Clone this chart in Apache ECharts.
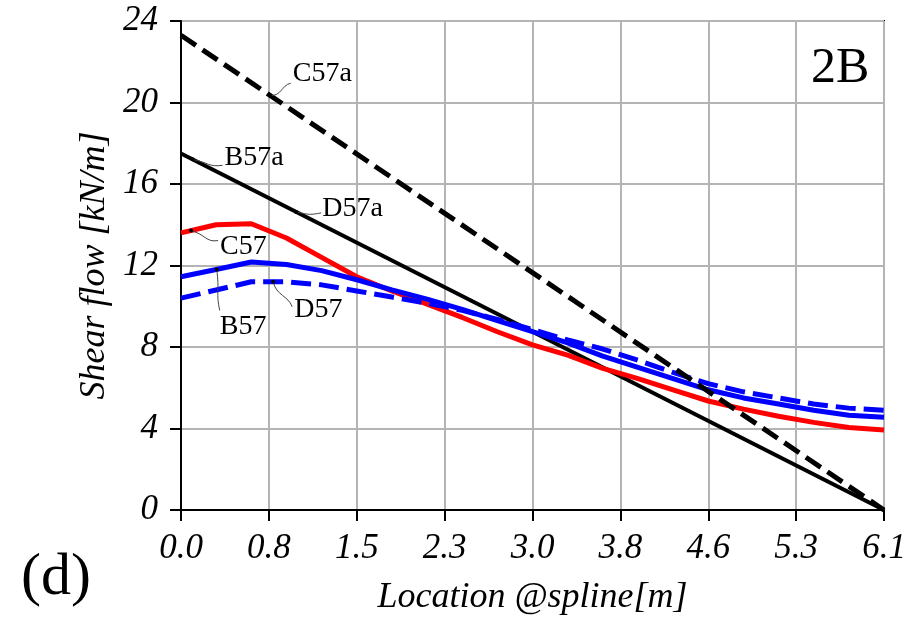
<!DOCTYPE html>
<html>
<head>
<meta charset="utf-8">
<script src="https://cdn.jsdelivr.net/npm/echarts@6/dist/echarts.min.js"></script>
<style>
  html, body { margin: 0; padding: 0; background: #ffffff; }
  #chart { width: 920px; height: 621px; }
</style>
</head>
<body>
<div id="chart"></div>
<script>
// Sampling positions along the spline [m]
const locations = [0, 0.305, 0.61, 0.915, 1.22, 1.525, 1.83, 2.135, 2.44, 2.745, 3.05,
                   3.355, 3.66, 3.965, 4.27, 4.575, 4.88, 5.185, 5.49, 5.795, 6.1];

// Shear flow [kN/m] for the distributed cases
const c57 = [13.6, 14.0, 14.05, 13.35, 12.4, 11.45, 10.75, 10.1, 9.45, 8.75, 8.1,
             7.6, 6.95, 6.45, 5.9, 5.35, 4.95, 4.6, 4.3, 4.05, 3.93];
const b57 = [11.45, 11.8, 12.17, 12.05, 11.75, 11.3, 10.8, 10.35, 9.85, 9.3, 8.75,
             8.2, 7.55, 7.0, 6.45, 5.9, 5.5, 5.2, 4.9, 4.65, 4.55];
const d57 = [10.4, 10.8, 11.2, 11.2, 11.05, 10.75, 10.45, 10.15, 9.8, 9.35, 8.85,
             8.35, 7.9, 7.35, 6.75, 6.2, 5.8, 5.5, 5.2, 5.0, 4.9];

// Linear (analytical) cases
const linearLocations = [0, 6.1];
const c57a = [23.3, 0];
const b57a = [17.5, 0];

// Tick labels
const xTickLabels = ['0.0', '0.8', '1.5', '2.3', '3.0', '3.8', '4.6', '5.3', '6.1'];
const yTickLabels = ['0', '4', '8', '12', '16', '20', '24'];

const X_MAX = 6.1;
const X_STEP = X_MAX / 8;
const Y_STEP = 4;
const FONT = "'Liberation Serif', 'DejaVu Serif', serif";

const pairs = (xs, ys) => xs.map((x, i) => [x, ys[i]]);

const seriesDefs = [
  { name: 'B57a', xs: linearLocations, ys: b57a, color: '#000000', width: 4, type: 'solid' },
  { name: 'C57',  xs: locations, ys: c57, color: '#ff0000', width: 5, type: 'solid' },
  { name: 'B57',  xs: locations, ys: b57, color: '#0000ff', width: 5, type: 'solid' },
  { name: 'D57',  xs: locations, ys: d57, color: '#0000ff', width: 5, type: [20, 8] },
  { name: 'C57a', xs: linearLocations, ys: c57a, color: '#000000', width: 5, type: [18, 8] }
];

const chart = echarts.init(document.getElementById('chart'), null, { renderer: 'canvas' });

const tickFont = { fontFamily: FONT, fontStyle: 'italic', fontSize: 35, color: '#000' };
const nameFont = { fontFamily: FONT, fontStyle: 'italic', fontSize: 36, color: '#000' };

chart.setOption({
  animation: false,
  backgroundColor: '#ffffff',
  grid: {
    left: 181, right: 36, top: 21, bottom: 111,
    show: true, borderColor: '#000000', borderWidth: 2, backgroundColor: 'transparent'
  },
  xAxis: {
    type: 'value', min: 0, max: X_MAX, interval: X_STEP,
    name: 'Location @spline[m]', nameLocation: 'middle', nameGap: 70,
    nameTextStyle: nameFont,
    axisLine: { show: true, lineStyle: { color: '#000', width: 2 } },
    axisTick: { show: true, length: 11, lineStyle: { color: '#000', width: 2 } },
    axisLabel: Object.assign({}, tickFont, {
      margin: 21, showMinLabel: true, showMaxLabel: true,
      formatter: v => xTickLabels[Math.round(v / X_STEP)] ?? ''
    }),
    splitLine: { show: true, lineStyle: { color: '#b4b4b4', width: 2 } }
  },
  yAxis: {
    type: 'value', min: 0, max: 24, interval: Y_STEP,
    name: 'Shear flow [kN/m]', nameLocation: 'middle', nameGap: 63, nameRotate: 90,
    nameTextStyle: nameFont,
    axisLine: { show: true, lineStyle: { color: '#000', width: 2 } },
    axisTick: { show: true, length: 11, lineStyle: { color: '#000', width: 2 } },
    axisLabel: Object.assign({}, tickFont, {
      margin: 23, showMinLabel: true, showMaxLabel: true,
      formatter: v => yTickLabels[Math.round(v / Y_STEP)] ?? ''
    }),
    splitLine: { show: true, lineStyle: { color: '#b4b4b4', width: 2 } }
  },
  series: seriesDefs.map((s, i) => ({
    name: s.name, type: 'line', data: pairs(s.xs, s.ys),
    showSymbol: false, symbol: 'none', z: 2 + i,
    lineStyle: { color: s.color, width: s.width, type: s.type, cap: 'butt', join: 'round' },
    emphasis: { disabled: true }
  }))
});

// Curve labels: anchored on a series at a given location, with a wavy leader to the text
const annotations = [
  { series: 'C57a', at: 0.77,  text: [23, -22], end: [21, -12], bend: 'h' },
  { series: 'B57a', at: 0.10,  text: [32, -2],  end: [30, 6],   bend: 'h' },
  { series: 'D57a', ref: 'B57a', at: 1.0, text: [26, -3], end: [25, 1], bend: 'h' },
  { series: 'C57',  at: 0.087, text: [29, 16],  end: [27, 10],  bend: 'h' },
  { series: 'B57',  at: 0.31,  text: [3, 57],   end: [3, 41],   bend: 'v' },
  { series: 'D57',  at: 0.8,   text: [21, 28],  end: [19, 25],  bend: 'v' }
];

function valueOn(name, x) {
  const s = seriesDefs.find(d => d.name === name);
  for (let i = 0; i < s.xs.length - 1; i++) {
    if (x >= s.xs[i] && x <= s.xs[i + 1]) {
      const t = (x - s.xs[i]) / (s.xs[i + 1] - s.xs[i]);
      return s.ys[i] + t * (s.ys[i + 1] - s.ys[i]);
    }
  }
  return s.ys[s.ys.length - 1];
}

const graphics = [];
annotations.forEach(a => {
  const lineName = a.ref || a.series;
  const p = chart.convertToPixel({ gridIndex: 0 }, [a.at, valueOn(lineName, a.at)]);
  const ex = p[0] + a.end[0], ey = p[1] + a.end[1];
  const dx = ex - p[0], dy = ey - p[1];
  const shape = a.bend === 'h'
    ? { x1: p[0], y1: p[1], x2: ex, y2: ey,
        cpx1: p[0] + dx * 0.55, cpy1: p[1] + dy * 0.1 + 3, cpx2: ex - dx * 0.45, cpy2: ey + 2 }
    : { x1: p[0], y1: p[1], x2: ex, y2: ey,
        cpx1: p[0] + 3, cpy1: p[1] + dy * 0.55, cpx2: ex - 4, cpy2: ey - dy * 0.45 };
  graphics.push({
    type: 'bezierCurve', shape, z: 100,
    style: { stroke: '#444444', lineWidth: 1, fill: null }
  });
  graphics.push({
    type: 'circle', shape: { cx: p[0], cy: p[1], r: 2 }, z: 101,
    style: { fill: '#000000' }
  });
  graphics.push({
    type: 'text', z: 101,
    style: {
      text: a.series, x: p[0] + a.text[0], y: p[1] + a.text[1],
      fontFamily: FONT, fontSize: 28, fill: '#000000',
      align: 'left', verticalAlign: 'middle', textAlign: 'left', textVerticalAlign: 'middle'
    }
  });
});

graphics.push({
  type: 'text', z: 101,
  style: { text: '2B', x: 811, y: 69, fontFamily: FONT, fontSize: 50, fill: '#000',
           align: 'left', verticalAlign: 'middle', textAlign: 'left', textVerticalAlign: 'middle' }
});
graphics.push({
  type: 'text', z: 101,
  style: { text: '(d)', x: 21, y: 578, fontFamily: FONT, fontSize: 60, fill: '#000',
           align: 'left', verticalAlign: 'middle', textAlign: 'left', textVerticalAlign: 'middle' }
});

chart.setOption({ graphic: { elements: graphics } });
</script>
</body>
</html>
